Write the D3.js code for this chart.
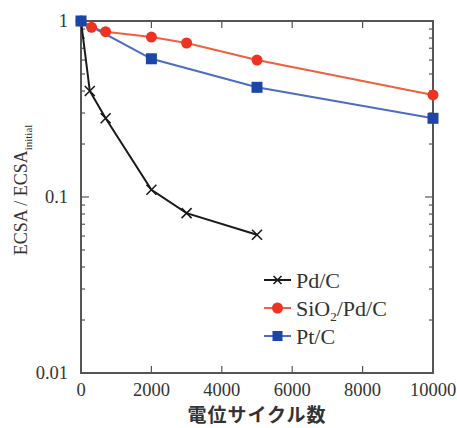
<!DOCTYPE html>
<html>
<head>
<meta charset="utf-8">
<script src="https://cdn.jsdelivr.net/npm/d3@7"></script>
<style>
  body { margin: 0; background: #fff; }
  svg { display: block; }
  .tick-label { font-family: "Liberation Serif", serif; font-size: 18.5px; fill: #333; }
</style>
</head>
<body>
<svg id="chart"></svg>
<script>
// data
const cycles_pd = [0, 250, 700, 2000, 3000, 5000];
const ecsa_pd = [1, 0.4, 0.28, 0.11, 0.081, 0.061];
const cycles_sio2 = [0, 300, 700, 2000, 3000, 5000, 10000];
const ecsa_sio2 = [1, 0.92, 0.87, 0.81, 0.75, 0.60, 0.38];
const cycles_pt = [0, 2000, 5000, 10000];
const ecsa_pt = [1, 0.61, 0.42, 0.28];
const xTicks = [0, 2000, 4000, 6000, 8000, 10000];
const yTicks = [1, 0.1, 0.01];
const yTickLabels = ["1", "0.1", "0.01"];
const seriesNames = ["Pd/C", "SiO2/Pd/C", "Pt/C"];

const width = 457;
const height = 428;
const margin = { top: 21, right: 24, bottom: 55, left: 81 };

const svg = d3.select("#chart")
    .attr("width", width)
    .attr("height", height);

const xScale = d3.scaleLinear()
    .domain([0, 10000])
    .range([margin.left, width - margin.right]);

const yScale = d3.scaleLog()
    .domain([0.01, 1])
    .range([height - margin.bottom, margin.top]);

const axisColor = "#555";
const x0 = xScale.range()[0], x1 = xScale.range()[1];
const y0 = yScale.range()[0], y1 = yScale.range()[1];

// minor log ticks
const minorTicks = [];
[0.01, 0.1].forEach(base => {
    for (let k = 2; k <= 9; k++) minorTicks.push(base * k);
});

const ticks = svg.append("g").attr("stroke", axisColor).attr("stroke-width", 1.2);

minorTicks.forEach(v => {
    ticks.append("line").attr("x1", x0).attr("x2", x0 + 4).attr("y1", yScale(v)).attr("y2", yScale(v));
    ticks.append("line").attr("x1", x1).attr("x2", x1 - 4).attr("y1", yScale(v)).attr("y2", yScale(v));
});
yTicks.forEach(v => {
    ticks.append("line").attr("x1", x0).attr("x2", x0 + 8).attr("y1", yScale(v)).attr("y2", yScale(v));
    ticks.append("line").attr("x1", x1).attr("x2", x1 - 8).attr("y1", yScale(v)).attr("y2", yScale(v));
});
xTicks.forEach(v => {
    ticks.append("line").attr("x1", xScale(v)).attr("x2", xScale(v)).attr("y1", y0).attr("y2", y0 - 7);
    ticks.append("line").attr("x1", xScale(v)).attr("x2", xScale(v)).attr("y1", y1).attr("y2", y1 + 7);
});

// frame
svg.append("rect")
    .attr("x", x0)
    .attr("y", y1)
    .attr("width", x1 - x0)
    .attr("height", y0 - y1)
    .attr("fill", "none")
    .attr("stroke", axisColor)
    .attr("stroke-width", 2);

// tick labels
svg.selectAll(".xlab")
    .data(xTicks)
    .enter()
    .append("text")
    .attr("class", "tick-label")
    .attr("x", d => xScale(d))
    .attr("y", 390)
    .attr("dy", "0.33em")
    .style("text-anchor", "middle")
    .text(d => d);

svg.selectAll(".ylab")
    .data(yTicks)
    .enter()
    .append("text")
    .attr("class", "tick-label")
    .attr("x", x0 - 13)
    .attr("y", d => yScale(d))
    .attr("dy", "0.35em")
    .style("text-anchor", "end")
    .text((d, i) => yTickLabels[i]);

// axis titles
svg.append("text")
    .attr("x", (x0 + x1) / 2)
    .attr("y", 415)
    .attr("dy", "0.38em")
    .style("text-anchor", "middle")
    .style("font-family", "'Noto Sans CJK JP', sans-serif")
    .style("font-size", "19px")
    .style("font-weight", "bold")
    .style("letter-spacing", "1px")
    .style("fill", "#333")
    .text("電位サイクル数");

const yTitle = svg.append("text")
    .attr("transform", "translate(27,190) rotate(-90)")
    .style("text-anchor", "middle")
    .style("font-family", "'Liberation Serif', serif")
    .style("font-size", "18px")
    .style("fill", "#333");
yTitle.append("tspan").text("ECSA / ECSA");
yTitle.append("tspan").attr("dy", 5).style("font-size", "11px").text("initial");

// lines
const line = d3.line()
    .x(d => xScale(d[0]))
    .y(d => yScale(d[1]));

const pdData = cycles_pd.map((c, i) => [c, ecsa_pd[i]]);
const sio2Data = cycles_sio2.map((c, i) => [c, ecsa_sio2[i]]);
const ptData = cycles_pt.map((c, i) => [c, ecsa_pt[i]]);

const colors = { pd: "#1a1a1a", sio2Line: "#f0603c", sio2: "#ee3322", ptLine: "#4d6cc6", pt: "#1b45a6" };

svg.append("path").datum(sio2Data).attr("d", line)
    .attr("fill", "none").attr("stroke", colors.sio2Line).attr("stroke-width", 2);
svg.append("path").datum(ptData).attr("d", line)
    .attr("fill", "none").attr("stroke", colors.ptLine).attr("stroke-width", 2);
svg.append("path").datum(pdData).attr("d", line)
    .attr("fill", "none").attr("stroke", colors.pd).attr("stroke-width", 2);

// markers
function cross(g, x, y, s) {
    g.append("path")
        .attr("d", "M" + (x - s) + "," + (y - s) + "L" + (x + s) + "," + (y + s) +
            "M" + (x - s) + "," + (y + s) + "L" + (x + s) + "," + (y - s))
        .attr("stroke", colors.pd)
        .attr("stroke-width", 1.6);
}

svg.selectAll(".sio2-dot")
    .data(sio2Data)
    .enter()
    .append("circle")
    .attr("cx", d => xScale(d[0]))
    .attr("cy", d => yScale(d[1]))
    .attr("r", 5.5)
    .attr("fill", colors.sio2);

svg.selectAll(".pt-dot")
    .data(ptData)
    .enter()
    .append("rect")
    .attr("x", d => xScale(d[0]) - 5.5)
    .attr("y", d => yScale(d[1]) - 5.5)
    .attr("width", 11)
    .attr("height", 11)
    .attr("fill", colors.pt);

const pdMarks = svg.append("g");
pdData.slice(1).forEach(d => cross(pdMarks, xScale(d[0]), yScale(d[1]), 5));

// legend
const legend = svg.append("g").attr("transform", "translate(264,280)");
const legendRows = [
    { name: seriesNames[0], line: colors.pd, mark: "cross" },
    { name: seriesNames[1], line: colors.sio2Line, mark: "circle" },
    { name: seriesNames[2], line: colors.ptLine, mark: "square" }
];
legendRows.forEach((r, i) => {
    const ly = [0, 28, 56][i];
    legend.append("line").attr("x1", 0).attr("x2", 27).attr("y1", ly).attr("y2", ly)
        .attr("stroke", r.line).attr("stroke-width", 2);
    if (r.mark === "cross") cross(legend, 13.5, ly, 4);
    if (r.mark === "circle") legend.append("circle").attr("cx", 13.5).attr("cy", ly).attr("r", 5.5).attr("fill", colors.sio2);
    if (r.mark === "square") legend.append("rect").attr("x", 8.5).attr("y", ly - 5).attr("width", 10).attr("height", 10).attr("fill", colors.pt);
    const t = legend.append("text")
        .attr("x", 32)
        .attr("y", ly)
        .attr("dy", "0.35em")
        .style("font-family", "'Liberation Serif', serif")
        .style("font-size", "22px")
        .style("fill", "#333");
    if (r.name === "SiO2/Pd/C") {
        t.append("tspan").text("SiO");
        t.append("tspan").attr("dy", 5).style("font-size", "13px").text("2");
        t.append("tspan").attr("dy", -5).text("/Pd/C");
    } else {
        t.text(r.name);
    }
});
</script>
</body>
</html>
